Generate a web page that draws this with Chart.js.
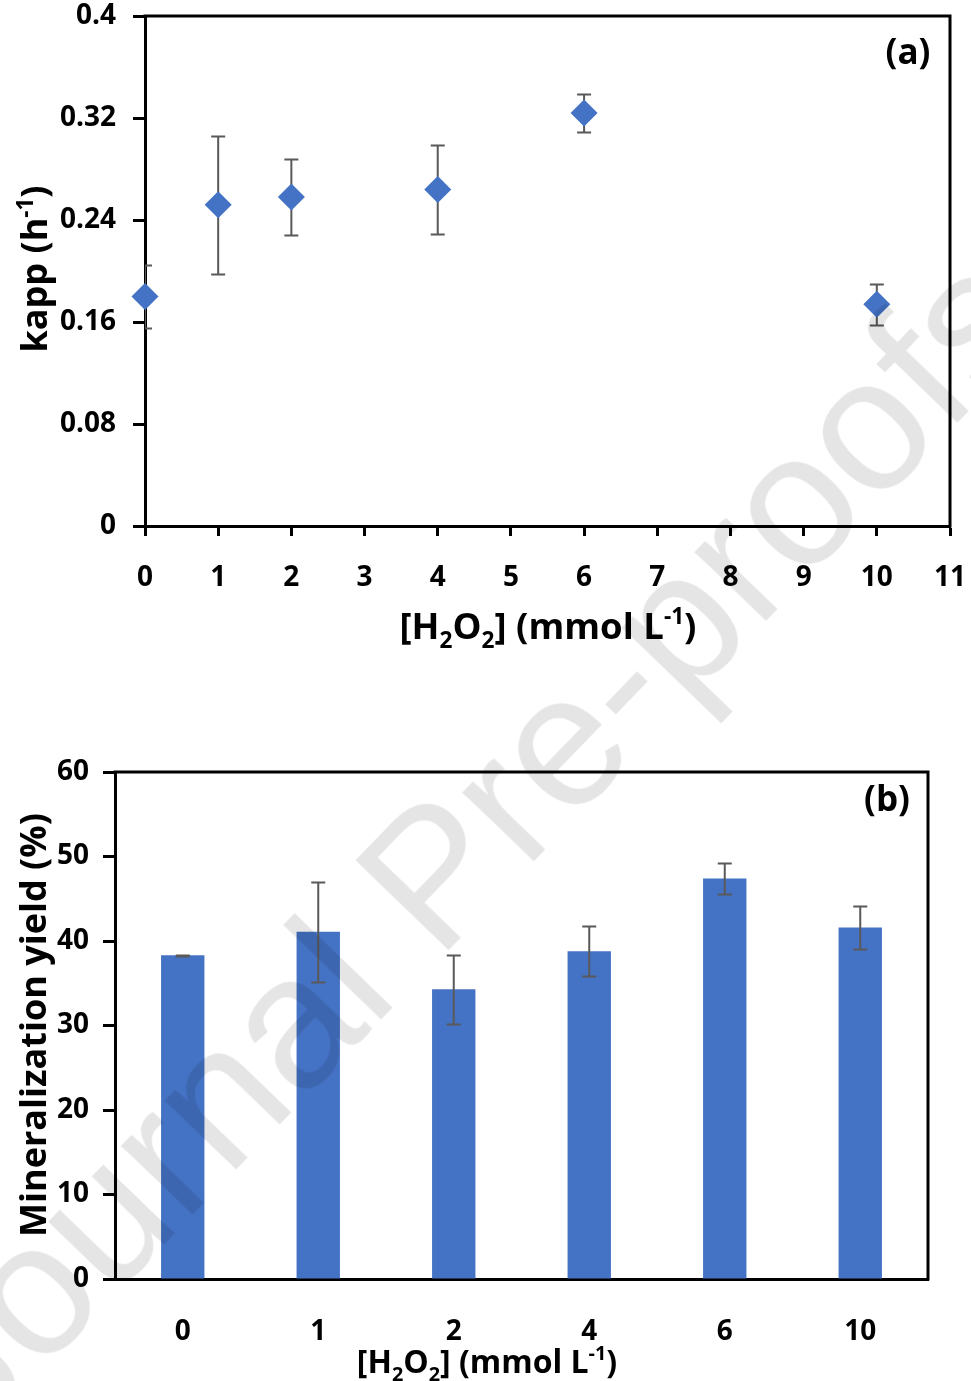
<!DOCTYPE html>
<html>
<head>
<meta charset="utf-8">
<script src="https://cdn.jsdelivr.net/npm/chart.js@4.4.1/dist/chart.umd.min.js"></script>
<style>
  body { margin: 0; background: #fff; width: 971px; height: 1381px; overflow: hidden; position: relative; }
  canvas { position: absolute; left: 0; }
  #chartA { top: 0; }
  #chartB { top: 690px; }
  #wm {
    position: absolute; left: -27px; top: 1283px;
    font: 188px "Liberation Sans", sans-serif; line-height: 1;
    color: rgba(0, 0, 0, 0.1); white-space: nowrap;
    transform-origin: 0 159px; transform: rotate(-46deg);
    pointer-events: none;
  }
</style>
</head>
<body>
<canvas id="chartA" width="971" height="690"></canvas>
<canvas id="chartB" width="971" height="691"></canvas>
<div id="wm">Journal Pre-proofs</div>
<script>
// (a) apparent rate constant vs H2O2 dose
const h2o2Dose = [0, 1, 2, 4, 6, 10];
const kapp = [0.180, 0.252, 0.258, 0.264, 0.324, 0.174];
const kappErr = [0.025, 0.054, 0.030, 0.035, 0.015, 0.016];
const kappTicks = [0, 0.08, 0.16, 0.24, 0.32, 0.4];

// (b) mineralization yield
const doseLabels = ['0', '1', '2', '4', '6', '10'];
const mineralYield = [38.3, 41.1, 34.3, 38.8, 47.4, 41.6];
const yieldErr = [0.1, 5.9, 4.1, 3.0, 1.8, 2.5];

const FONT = '"Open Sans", sans-serif';
const BLUE = '#4472C4';
const ERR = '#595959';

// text with sub/superscripts, centred on x, drawn on a baseline
function drawRich(ctx, parts, x, y, size, angle) {
  ctx.save();
  ctx.translate(x, y);
  ctx.rotate(angle || 0);
  ctx.fillStyle = '#000';
  ctx.textBaseline = 'alphabetic';
  const fontOf = p => 'bold ' + (p.sub || p.sup ? size * 0.62 : size) + 'px ' + FONT;
  let total = 0;
  parts.forEach(p => { ctx.font = fontOf(p); p.w = ctx.measureText(p.t).width; total += p.w; });
  let cx = -total / 2;
  parts.forEach(p => {
    ctx.font = fontOf(p);
    const dy = p.sub ? size * 0.25 : p.sup ? -size * 0.4 : 0;
    ctx.fillText(p.t, cx, dy);
    cx += p.w;
  });
  ctx.restore();
}

const doseTitle = [
  { t: '[H' }, { t: '2', sub: true }, { t: 'O' }, { t: '2', sub: true },
  { t: '] (mmol L' }, { t: '-1', sup: true }, { t: ')' }
];

const errorBars = {
  id: 'errorBars',
  draw(chart, opts) {
    const ctx = chart.ctx, y = chart.scales.y, a = chart.chartArea;
    const meta = chart.getDatasetMeta(0);
    ctx.save();
    ctx.beginPath();
    ctx.rect(a.left, a.top - 2, a.right - a.left, a.bottom - a.top + 4);
    ctx.clip();
    ctx.strokeStyle = ERR;
    ctx.lineWidth = 2;
    meta.data.forEach((el, i) => {
      const v = opts.values[i], e = opts.errors[i];
      const x = el.x;
      const yt = Math.round(y.getPixelForValue(v + e)) + 0.5;
      const yb = Math.round(y.getPixelForValue(v - e)) + 0.5;
      ctx.beginPath();
      ctx.moveTo(x, yt); ctx.lineTo(x, yb);
      ctx.moveTo(x - opts.cap, yt); ctx.lineTo(x + opts.cap, yt);
      ctx.moveTo(x - opts.cap, yb); ctx.lineTo(x + opts.cap, yb);
      ctx.stroke();
    });
    ctx.restore();
  },
  beforeDatasetsDraw(chart, args, opts) { if (!opts.after) this.draw(chart, opts); },
  afterDatasetsDraw(chart, args, opts) { if (opts.after) this.draw(chart, opts); }
};

const frame = {
  id: 'frame',
  beforeDatasetsDraw(chart) {
    const ctx = chart.ctx, a = chart.chartArea;
    ctx.save();
    ctx.strokeStyle = '#000';
    ctx.lineWidth = 3;
    ctx.beginPath();
    ctx.moveTo(a.left - 1.5, a.top);
    ctx.lineTo(a.right, a.top);
    ctx.lineTo(a.right, a.bottom + 1.5);
    ctx.stroke();
    ctx.restore();
  }
};

const tickFont = { family: FONT, size: 28, weight: 'bold' };

function label(ctx, text, x, y) {
  ctx.save();
  ctx.font = 'bold 35px ' + FONT;
  ctx.textAlign = 'center';
  ctx.fillStyle = '#000';
  ctx.fillText(text, x, y);
  ctx.restore();
}

// keep the plot box where the layout padding puts it
const noPadX = s => { s.paddingLeft = 0; s.paddingRight = 0; };
const noPadY = s => { s.paddingTop = 0; s.paddingBottom = 0; };

// ---- chart (a)
new Chart(document.getElementById('chartA'), {
  type: 'scatter',
  data: {
    datasets: [{
      data: h2o2Dose.map((d, i) => ({ x: d, y: kapp[i] })),
      pointStyle: 'rectRot',
      pointRadius: 13.5,
      backgroundColor: BLUE,
      borderWidth: 0,
      clip: false
    }, {
      data: h2o2Dose.map((d, i) => ({ x: d, y: kapp[i] })),
      pointStyle: 'rectRot',
      pointRadius: 4.5,
      backgroundColor: '#5B9BD5',
      borderWidth: 0,
      clip: false
    }]
  },
  options: {
    responsive: false,
    animation: false,
    events: [],
    layout: { padding: { top: 16, right: 21, left: 0, bottom: 0 } },
    plugins: {
      legend: { display: false },
      tooltip: { enabled: false },
      errorBars: { values: kapp, errors: kappErr, cap: 7, after: false }
    },
    scales: {
      x: {
        type: 'linear', min: 0, max: 11,
        ticks: { stepSize: 1, color: '#000', font: tickFont, padding: 25 },
        grid: { drawOnChartArea: false, drawTicks: true, tickLength: 10, tickColor: '#000', tickWidth: 3 },
        border: { display: true, color: '#000', width: 3 },
        afterFit: s => { s.height = 690 - 526; noPadX(s); }
      },
      y: {
        min: 0, max: 0.4,
        afterBuildTicks: s => { s.ticks = kappTicks.map(v => ({ value: v })); },
        ticks: { color: '#000', font: tickFont, padding: 17, callback: v => String(+v.toFixed(2)) },
        grid: { drawOnChartArea: false, drawTicks: true, tickLength: 12, tickColor: '#000', tickWidth: 3 },
        border: { display: true, color: '#000', width: 3 },
        afterFit: s => { s.width = 145; noPadY(s); }
      }
    }
  },
  plugins: [errorBars, frame, {
    id: 'titlesA',
    afterDraw(chart) {
      const ctx = chart.ctx;
      drawRich(ctx, doseTitle, 548, 639, 36.5, 0);
      drawRich(ctx, [{ t: 'kapp (h' }, { t: '-1', sup: true }, { t: ')' }], 47, 269, 36, -Math.PI / 2);
      label(ctx, '(a)', 908, 64);
    }
  }]
});

// ---- chart (b)
new Chart(document.getElementById('chartB'), {
  type: 'bar',
  data: {
    labels: doseLabels,
    datasets: [{
      data: mineralYield,
      backgroundColor: BLUE,
      borderWidth: 0,
      categoryPercentage: 1,
      barPercentage: 0.32
    }]
  },
  options: {
    responsive: false,
    animation: false,
    events: [],
    layout: { padding: { top: 82, right: 43, left: 0, bottom: 0 } },
    plugins: {
      legend: { display: false },
      tooltip: { enabled: false },
      errorBars: { values: mineralYield, errors: yieldErr, cap: 7, after: true }
    },
    scales: {
      x: {
        ticks: { color: '#000', font: tickFont, padding: 36 },
        grid: { display: false, drawTicks: false },
        border: { display: true, color: '#000', width: 3 },
        afterFit: s => { s.height = 691 - 589; noPadX(s); }
      },
      y: {
        min: 0, max: 60,
        ticks: { stepSize: 10, color: '#000', font: tickFont, padding: 14 },
        grid: { drawOnChartArea: false, drawTicks: true, tickLength: 12, tickColor: '#000', tickWidth: 3 },
        border: { display: true, color: '#000', width: 3 },
        afterFit: s => { s.width = 115; noPadY(s); }
      }
    }
  },
  plugins: [errorBars, frame, {
    id: 'titlesB',
    afterDraw(chart) {
      const ctx = chart.ctx;
      drawRich(ctx, doseTitle, 487, 683, 32, 0);
      drawRich(ctx, [{ t: 'Mineralization yield (%)' }], 46, 335, 36, -Math.PI / 2);
      label(ctx, '(b)', 887, 121);
    }
  }]
});
</script>
</body>
</html>
